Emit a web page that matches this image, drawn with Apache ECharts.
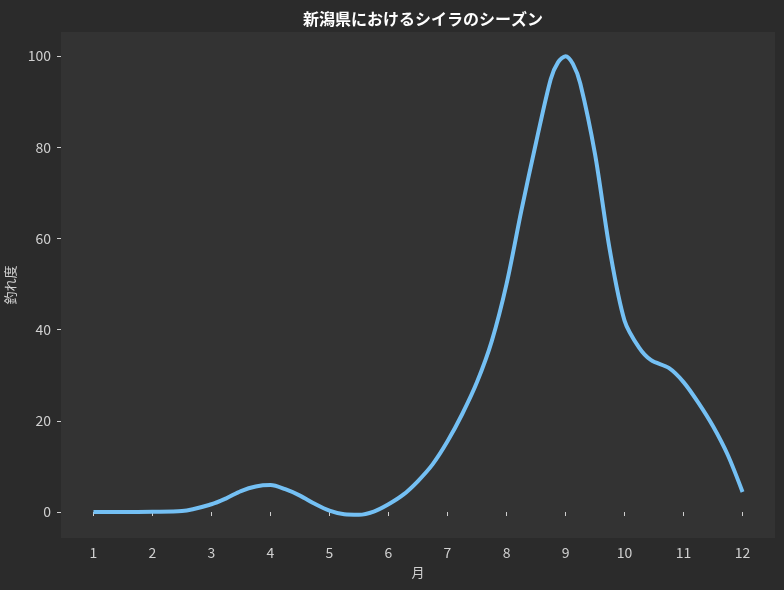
<!DOCTYPE html>
<html>
<head>
<meta charset="utf-8">
<script src="https://cdn.jsdelivr.net/npm/echarts@6/dist/echarts.min.js"></script>
<style>
  html, body { margin: 0; padding: 0; background: #2b2b2b; }
  #chart { width: 784px; height: 590px; }
</style>
</head>
<body>
<div id="chart"></div>
<script>
// 月（グラフから読み取った位置）
const months = [1, 1.5, 2, 2.5, 3, 3.25, 3.5, 3.75, 4, 4.25, 4.5, 4.75, 5, 5.25, 5.5, 5.75, 6, 6.25, 6.5, 6.75, 7, 7.25, 7.5, 7.75, 8, 8.25, 8.5, 8.75, 8.875, 9, 9.125, 9.25, 9.5, 9.75, 10, 10.25, 10.45, 10.75, 11, 11.25, 11.5, 11.75, 12]
// 釣れ度
const catchRate = [0, 0, 0.05, 0.2, 1.7, 3.0, 4.6, 5.6, 5.9, 5.0, 3.6, 1.8, 0.3, -0.5, -0.6, 0.1, 1.7, 3.8, 6.8, 10.5, 15.5, 21.5, 28.5, 37.5, 50, 66, 81, 95, 98.7, 100, 98.3, 94, 78.5, 57.5, 42, 36, 33.3, 31.6, 28.5, 24, 18.8, 12.5, 4.4]
const monthTicks = [1, 2, 3, 4, 5, 6, 7, 8, 9, 10, 11, 12]
const rateTicks = [0, 20, 40, 60, 80, 100]

const font = '"Noto Sans CJK JP", "Noto Sans", sans-serif'
const chart = echarts.init(document.getElementById('chart'))

chart.setOption({
  backgroundColor: '#2b2b2b',
  animation: false,
  title: {
    text: '新潟県におけるシイラのシーズン',
    left: 418,
    textAlign: 'center',
    top: 6,
    textStyle: { color: '#ffffff', fontSize: 16, fontWeight: 'bold', fontFamily: font }
  },
  grid: {
    left: 61, right: 9, top: 32, bottom: 52,
    outerBoundsMode: 'none',
    containLabel: false,
    show: true,
    backgroundColor: '#333333',
    borderWidth: 0
  },
  xAxis: {
    type: 'value',
    min: 0.45,
    max: 12.55,
    name: '月',
    nameLocation: 'middle',
    nameGap: 28,
    nameTextStyle: { color: '#d0d0d0', fontSize: 13, fontFamily: font },
    axisLine: { show: false },
    splitLine: { show: false },
    axisTick: { show: true, customValues: monthTicks, length: 4, lineStyle: { color: '#d0d0d0' } },
    axisLabel: { customValues: monthTicks, color: '#d0d0d0', fontSize: 14, margin: 8, fontFamily: font }
  },
  yAxis: {
    type: 'value',
    min: -5.7,
    max: 105.3,
    name: '釣れ度',
    nameLocation: 'middle',
    nameGap: 35,
    nameTextStyle: { color: '#d0d0d0', fontSize: 13, fontFamily: font },
    axisLine: { show: false },
    splitLine: { show: false },
    axisTick: { show: true, customValues: rateTicks, length: 4, lineStyle: { color: '#d0d0d0' } },
    axisLabel: { customValues: rateTicks, color: '#d0d0d0', fontSize: 14, margin: 10, fontFamily: font }
  },
  series: [
    {
      type: 'line',
      data: months.map((m, i) => [m, catchRate[i]]),
      smooth: 0.3,
      symbol: 'none',
      lineStyle: { color: '#74c0f4', width: 4, cap: 'butt', join: 'round' }
    }
  ]
})
</script>
</body>
</html>
